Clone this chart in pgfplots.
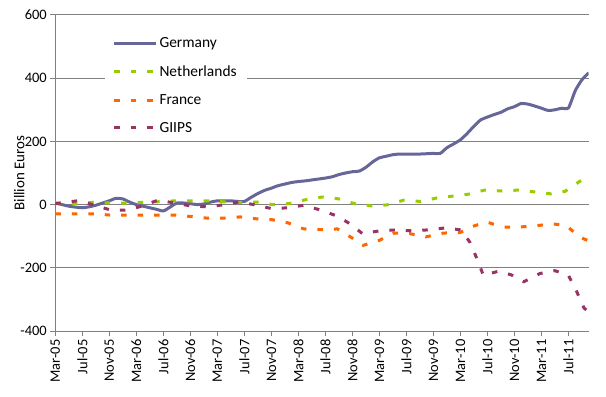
\documentclass[border=0pt]{standalone}
\usepackage{pgfplots}
\pgfplotsset{compat=1.18}
\usepackage{fontspec}
\setmainfont{Carlito}
\definecolor{de}{RGB}{102,102,153}
\definecolor{nl}{RGB}{153,204,0}
\definecolor{fr}{RGB}{255,102,0}
\definecolor{gi}{RGB}{153,51,102}
\definecolor{ax}{RGB}{128,128,128}
\begin{document}
\begin{tikzpicture}
\begin{axis}[
  scale only axis, width=533.4bp, height=316bp,
  xmin=0, xmax=79, ymin=-400, ymax=600,
  axis lines*=left,
  axis line style={ax, line width=1bp},
  ytick={-400,-200,...,600},
  xtick={0,4,...,76},
  xticklabels={Mar-05,Jul-05,Nov-05,Mar-06,Jul-06,Nov-06,Mar-07,Jul-07,Nov-07,Mar-08,Jul-08,Nov-08,Mar-09,Jul-09,Nov-09,Mar-10,Jul-10,Nov-10,Mar-11,Jul-11},
  tick align=outside, major tick length=5bp,
  tick style={ax, line width=1bp},
  ymajorgrids, major grid style={ax, line width=1bp},
  /pgf/number format/assume math mode=true,
  tick label style={font=\fontsize{14.5}{16}\selectfont},
  x tick label style={rotate=90, anchor=east},
  ylabel={Billion Euros},
  ylabel style={at={(axis description cs:0,0.5)}, anchor=center, yshift=36bp, font=\fontsize{15}{17}\selectfont},
  legend image code/.code={\draw[#1] (0bp,0bp) -- (42bp,0bp);},
  legend style={at={(axis description cs:0.0919,0.948)}, anchor=north west, draw=none, fill=white,
    font=\fontsize{15.5}{17}\selectfont, row sep=12.5bp, inner xsep=8bp, inner ysep=4bp},
  legend cell align=left,
  every axis plot/.append style={line width=3bp},
]
\addplot[de, smooth, tension=0.4] coordinates {
(0,5)(1,0)(2,-5)(3,-8)(4,-10)(5,-7)(6,-2)(7,5)(8,12)(9,20)(10,18)(11,8)(12,0)(13,-5)(14,-10)(15,-15)(16,-20)(17,-8)(18,5)(19,5)(20,3)(21,0)(22,2)(23,8)(24,12)(25,12)(26,12)(27,10)(28,10)(29,23)(30,35)(31,45)(32,52)(33,60)(34,65)(35,70)(36,73)(37,75)(38,78)(39,81)(40,84)(41,88)(42,95)(43,100)(44,104)(45,106)(46,118)(47,135)(48,148)(49,153)(50,158)(51,160)(52,160)(53,160)(54,160)(55,161)(56,162)(57,162)(58,180)(59,192)(60,205)(61,225)(62,248)(63,268)(64,277)(65,285)(66,292)(67,303)(68,310)(69,320)(70,318)(71,312)(72,305)(73,298)(74,300)(75,305)(76,306)(77,360)(78,395)(79,417)
};
\addlegendentry{Germany}
\addplot[nl, dash pattern=on 5.5bp off 11bp] coordinates {
(0,5)(3.3,3)(5.6,7)(8,5)(10.5,5)(12.8,7)(15.2,9)(17.8,12)(20.2,12)(22.5,12)(24.8,9)(27.3,7)(29.9,8)(32.2,0)(34.6,3)(37,15)(39.5,24)(42,18)(44.3,3)(46.8,-4)(49.1,-1)(51.6,14)(54.1,10)(56.5,21)(58.9,27)(61.2,33)(63.6,46)(66.2,43)(68.6,46)(71,40)(73.4,34)(75.5,42)(77.7,74)(79,85)
};
\addlegendentry{Netherlands}
\addplot[fr, dash pattern=on 5.5bp off 11bp] coordinates {
(0,-29)(3.3,-29)(5.7,-29)(8,-33)(10.5,-33)(12.8,-33)(15.2,-33)(17.8,-33)(20.2,-38)(22.6,-43)(24.8,-43)(27.4,-39)(29.8,-45)(32.2,-48)(34.5,-58)(36.8,-77)(39.4,-79)(41.8,-77)(43.7,-102)(45.6,-129)(48,-113)(50.2,-90)(52.5,-92)(54.9,-102)(57.5,-90)(59.9,-89)(61.8,-69)(63.9,-55)(66.2,-71)(68.7,-71)(71.2,-67)(73.5,-61)(75.6,-65)(77.7,-103)(79,-115)
};
\addlegendentry{France}
\addplot[gi, dash pattern=on 5.5bp off 11bp] coordinates {
(0,3)(3.3,12)(5.7,-1)(8,-16)(10.5,-18)(12.8,-5)(15.2,14)(17.7,5)(20,-4)(22.4,-7)(24.8,-1)(27.3,9)(29.8,-2)(32.1,-13)(34.5,-10)(36.8,-2)(39.4,-18)(41.7,-36)(43.6,-60)(45.5,-92)(48,-83)(50.5,-80)(52.8,-83)(55.2,-80)(57.7,-74)(60.1,-80)(61.4,-119)(62.5,-174)(63.4,-224)(65.6,-211)(67.5,-222)(69.4,-244)(71.8,-218)(74,-209)(76,-224)(77.2,-274)(78.3,-327)(79,-340)
};
\addlegendentry{GIIPS}
\end{axis}
\path ([xshift=-55.3bp,yshift=-66bp]current axis.south west) rectangle ([xshift=17.3bp,yshift=15bp]current axis.north east);
\end{tikzpicture}
\end{document}
